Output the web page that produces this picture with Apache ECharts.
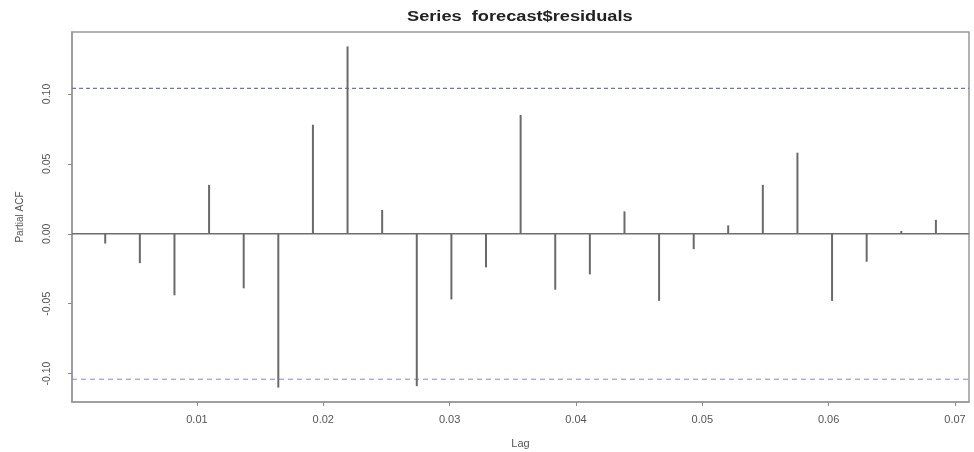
<!DOCTYPE html>
<html>
<head>
<meta charset="utf-8">
<script src="https://cdn.jsdelivr.net/npm/echarts@6/dist/echarts.min.js"></script>
<style>html,body{margin:0;padding:0;background:#fff}#c{width:974px;height:452px}</style>
</head>
<body>
<div id="c"></div>
<script>
const titleText = 'Series  forecast$residuals';
const xLabel = 'Lag';
const yLabel = 'Partial ACF';
const lags = [0.00274, 0.00548, 0.00822, 0.01096, 0.01370, 0.01644, 0.01918, 0.02192, 0.02466, 0.02740,
              0.03014, 0.03288, 0.03562, 0.03836, 0.04110, 0.04384, 0.04658, 0.04932, 0.05205, 0.05479,
              0.05753, 0.06027, 0.06301, 0.06575, 0.06849];
const pacf = [-0.007, -0.021, -0.044, 0.035, -0.039, -0.110, 0.078, 0.134, 0.017, -0.109,
              -0.047, -0.024, 0.085, -0.040, -0.029, 0.016, -0.048, -0.011, 0.006, 0.035,
              0.058, -0.048, -0.020, 0.002, 0.010];
const confLimit = 0.104;
const xTicks = [0.01, 0.02, 0.03, 0.04, 0.05, 0.06, 0.07];
const yTicks = [-0.10, -0.05, 0.00, 0.05, 0.10];
const xRange = [0.00011, 0.07111];
const yRange = [-0.1203, 0.1443];

function hLine(y) { return [[xRange[0], y], [xRange[1], y]]; }

const chart = echarts.init(document.getElementById('c'), null, {renderer: 'canvas'});
const axisGrey = '#8a8a8a';
chart.setOption({
  animation: false,
  backgroundColor: '#fff',
  graphic: [{
    type: 'text', left: 407, top: 10, scaleX: 1.3, originX: 0,
    style: {text: titleText, font: 'bold 14px "Liberation Sans", Arial, sans-serif', fill: '#222'}
  }],
  grid: {left: 72, right: 5, top: 32, bottom: 50, show: true, borderColor: '#999', borderWidth: 1.5,
    backgroundColor: 'transparent', containLabel: false, outerBoundsMode: 'none'},
  xAxis: {
    type: 'value', min: xRange[0], max: xRange[1],
    name: xLabel, nameLocation: 'middle', nameGap: 36,
    nameTextStyle: {fontSize: 11, color: '#555', fontFamily: 'Liberation Sans'},
    axisLine: {show: true, onZero: false, lineStyle: {color: '#999', width: 1.5}},
    axisTick: {show: true, length: 4, customValues: xTicks, lineStyle: {color: axisGrey}},
    axisLabel: {customValues: xTicks, fontSize: 11, color: '#555', margin: 12, fontFamily: 'Liberation Sans',
      formatter: v => v.toFixed(2)},
    splitLine: {show: false}
  },
  yAxis: {
    type: 'value', min: yRange[0], max: yRange[1],
    name: yLabel, nameLocation: 'middle', nameGap: 47, nameRotate: 90,
    nameTextStyle: {fontSize: 10, color: '#555', fontFamily: 'Liberation Sans'},
    axisLine: {show: true, lineStyle: {color: '#999', width: 1.5}},
    axisTick: {show: true, length: 4, customValues: yTicks, lineStyle: {color: axisGrey}},
    axisLabel: {customValues: yTicks, rotate: 90, fontSize: 10.5, color: '#555', margin: 19, fontFamily: 'Liberation Sans',
      formatter: v => v.toFixed(2)},
    splitLine: {show: false}
  },
  series: [
    {
      type: 'line', data: hLine(0), symbol: 'none', silent: true, z: 1,
      lineStyle: {color: '#6e6e6e', width: 1.5}
    },
    {
      type: 'line', data: hLine(confLimit), symbol: 'none', silent: true, z: 1,
      lineStyle: {color: '#7272b4', width: 1.3, type: [4, 3]}
    },
    {
      type: 'line', data: hLine(-confLimit), symbol: 'none', silent: true, z: 1,
      lineStyle: {color: '#8a8ac8', width: 1, type: [5, 4]}
    },
    {
      type: 'bar',
      barWidth: 2,
      z: 3,
      data: lags.map((x, i) => [x, pacf[i]]),
      itemStyle: {color: '#6a6a6a'}
    }
  ]
});
</script>
</body>
</html>
